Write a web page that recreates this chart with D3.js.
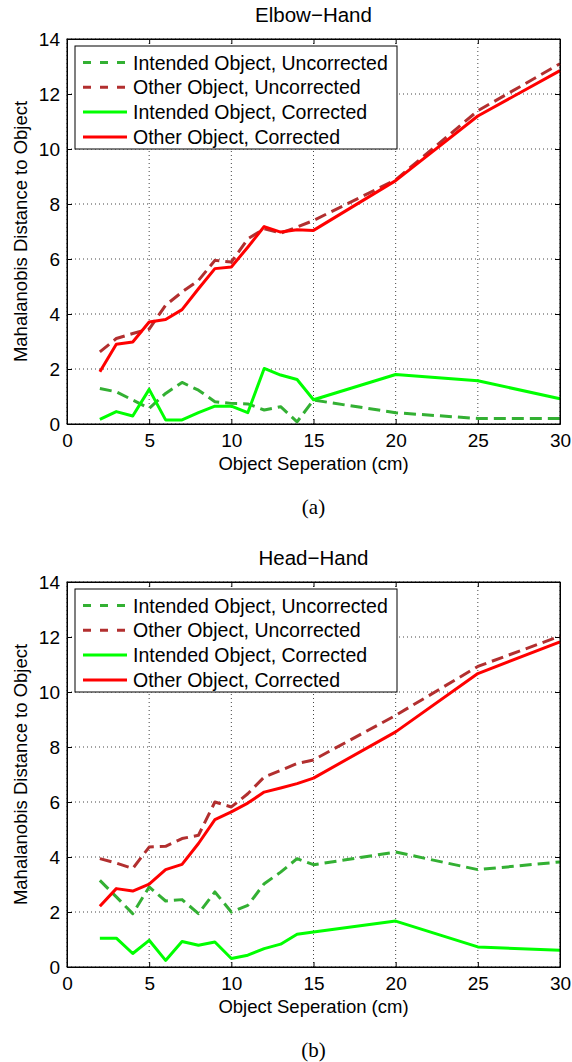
<!DOCTYPE html>
<meta charset="utf-8">
<script src="https://cdn.jsdelivr.net/npm/d3@7"></script>
<style>
  body { margin: 0; background: #fff; }
  svg { display: block; font-family: "Liberation Sans", Arial, sans-serif; }
  .grid line { stroke: #444; stroke-width: 1; stroke-dasharray: 1,3; }
  .axis path, .axis line { stroke: #000; }
  .axis text { font-size: 19px; fill: #000; }
</style>
<div id="chart"></div>
<script>
  // data
  const separation = [2, 3, 4, 5, 6, 7, 8, 9, 10, 11, 12, 13, 14, 15, 20, 25, 30];
  const xTicks = [0, 5, 10, 15, 20, 25, 30];
  const yTicks = [0, 2, 4, 6, 8, 10, 12, 14];
  const seriesNames = ["Intended Object, Uncorrected", "Other Object, Uncorrected",
                       "Intended Object, Corrected", "Other Object, Corrected"];

  // (a) Elbow-Hand
  const elbowIntUnc = [1.29, 1.17, 0.87, 0.57, 1.11, 1.51, 1.23, 0.81, 0.75, 0.73, 0.51, 0.63, 0.08, 0.87, 0.41, 0.2, 0.2];
  const elbowOthUnc = [2.62, 3.11, 3.29, 3.45, 4.32, 4.8, 5.22, 5.95, 5.89, 6.73, 7.1, 6.94, 7.16, 7.4, 8.88, 11.39, 13.1];
  const elbowIntCor = [0.17, 0.45, 0.29, 1.26, 0.15, 0.15, 0.41, 0.65, 0.65, 0.41, 2.02, 1.78, 1.62, 0.88, 1.8, 1.57, 0.92];
  const elbowOthCor = [1.9, 2.9, 2.98, 3.71, 3.8, 4.16, 4.92, 5.65, 5.71, 6.43, 7.18, 6.98, 7.06, 7.04, 8.85, 11.2, 12.85];

  // (b) Head-Hand
  const headIntUnc = [3.15, 2.55, 1.94, 2.91, 2.4, 2.45, 1.94, 2.73, 2.0, 2.24, 3.03, 3.45, 3.94, 3.72, 4.18, 3.54, 3.82];
  const headOthUnc = [3.94, 3.78, 3.58, 4.36, 4.39, 4.67, 4.79, 6.0, 5.82, 6.3, 6.91, 7.15, 7.4, 7.53, 9.15, 10.93, 12.03];
  const headIntCor = [1.05, 1.05, 0.49, 0.97, 0.24, 0.93, 0.79, 0.91, 0.31, 0.43, 0.67, 0.83, 1.19, 1.27, 1.67, 0.73, 0.61];
  const headOthCor = [2.21, 2.85, 2.76, 3.01, 3.54, 3.73, 4.49, 5.36, 5.64, 5.96, 6.36, 6.51, 6.67, 6.87, 8.55, 10.67, 11.82];

  const styles = [
    {color: "#33b033", dash: "12,6", legendDash: "8,9"},
    {color: "#b22f2f", dash: "12,6", legendDash: "8,9"},
    {color: "#00ff00", dash: null, legendDash: null},
    {color: "#ff0000", dash: null, legendDash: null}
  ];

  const W = 572, H = 1062;
  const left = 67, right = 560;

  const svg = d3.select("#chart").append("svg")
    .attr("width", W)
    .attr("height", H);

  const x = d3.scaleLinear().domain([0, 30]).range([left, right]);

  function drawPanel(top, bottom, title, caption, data) {
    const y = d3.scaleLinear().domain([0, 14]).range([bottom, top]);
    const g = svg.append("g");

    // dotted grid
    const grid = g.append("g").attr("class", "grid");
    grid.selectAll(".gx").data(xTicks).join("line")
      .attr("x1", d => x(d)).attr("x2", d => x(d))
      .attr("y1", top).attr("y2", bottom);
    grid.selectAll(".gy").data(yTicks).join("line")
      .attr("y1", d => y(d)).attr("y2", d => y(d))
      .attr("x1", left).attr("x2", right);

    // axes, MATLAB style ticks pointing inward
    g.append("g").attr("class", "axis")
      .attr("transform", `translate(0,${bottom})`)
      .call(d3.axisBottom(x).tickValues(xTicks).tickSize(-5).tickPadding(10).tickSizeOuter(0));
    g.append("g").attr("class", "axis")
      .attr("transform", `translate(0,${top})`)
      .call(d3.axisTop(x).tickValues(xTicks).tickSize(-5).tickFormat("").tickSizeOuter(0));
    g.append("g").attr("class", "axis")
      .attr("transform", `translate(${left},0)`)
      .call(d3.axisLeft(y).tickValues(yTicks).tickSize(-5).tickPadding(7).tickSizeOuter(0));
    g.append("g").attr("class", "axis")
      .attr("transform", `translate(${right},0)`)
      .call(d3.axisRight(y).tickValues(yTicks).tickSize(-5).tickFormat("").tickSizeOuter(0));

    // lines
    const line = d3.line()
      .x((d, i) => x(separation[i]))
      .y(d => y(d));
    data.forEach((vals, k) => {
      g.append("path")
        .attr("d", line(vals))
        .attr("fill", "none")
        .attr("stroke", styles[k].color)
        .attr("stroke-width", 3)
        .attr("stroke-linejoin", "round")
        .attr("stroke-dasharray", styles[k].dash);
    });

    // legend
    const lg = g.append("g").attr("transform", `translate(75,${top + 7})`);
    lg.append("rect")
      .attr("width", 322).attr("height", 103)
      .attr("fill", "#fff").attr("stroke", "#000");
    seriesNames.forEach((name, k) => {
      const cy = 16.5 + k * 24.8;
      lg.append("line")
        .attr("x1", 8).attr("x2", 52)
        .attr("y1", cy).attr("y2", cy)
        .attr("stroke", styles[k].color)
        .attr("stroke-width", 3)
        .attr("stroke-dasharray", styles[k].legendDash);
      lg.append("text")
        .attr("x", 58).attr("y", cy)
        .attr("dy", "0.36em")
        .attr("font-size", 19.5)
        .text(name);
    });

    // box
    g.append("rect")
      .attr("x", left).attr("y", top)
      .attr("width", right - left).attr("height", bottom - top)
      .attr("fill", "none").attr("stroke", "#000");

    // title and labels
    g.append("text")
      .attr("x", (left + right) / 2).attr("y", top - 17)
      .attr("text-anchor", "middle")
      .attr("font-size", 20.5)
      .text(title);
    g.append("text")
      .attr("x", (left + right) / 2).attr("y", bottom + 40)
      .attr("dy", "0.35em")
      .attr("text-anchor", "middle")
      .attr("font-size", 18.5)
      .text("Object Seperation (cm)");
    g.append("text")
      .attr("transform", `translate(21,${(top + bottom) / 2}) rotate(-90)`)
      .attr("dy", "0.35em")
      .attr("text-anchor", "middle")
      .attr("font-size", 18.5)
      .text("Mahalanobis Distance to Object");
    g.append("text")
      .attr("x", (left + right) / 2).attr("y", bottom + 83)
      .attr("dy", "0.35em")
      .attr("text-anchor", "middle")
      .attr("font-family", "'Liberation Serif', serif")
      .attr("font-size", 21)
      .text(caption);
  }

  drawPanel(39, 424, "Elbow\u2212Hand", "(a)", [elbowIntUnc, elbowOthUnc, elbowIntCor, elbowOthCor]);
  drawPanel(582, 967, "Head\u2212Hand", "(b)", [headIntUnc, headOthUnc, headIntCor, headOthCor]);
</script>
